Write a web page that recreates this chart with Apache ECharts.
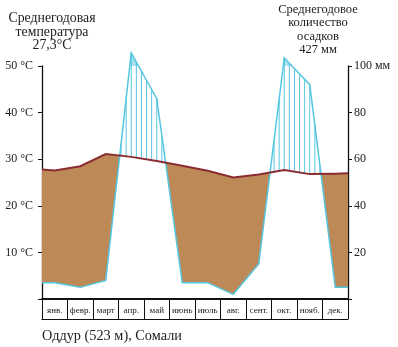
<!DOCTYPE html>
<html><head><meta charset="utf-8">
<script src="https://cdn.jsdelivr.net/npm/echarts@6/dist/echarts.min.js"></script>
<style>html,body{margin:0;padding:0;background:#fff}#c{width:398px;height:347px}</style>
</head><body><div id="c"></div>
<script>
// ---- data ----
const months = ['янв.','февр.','март','апр.','май','июнь','июль','авг.','сент.','окт.','нояб.','дек.'];
const temperature = [27.6, 28.5, 31.1, 30.5, 29.6, 28.6, 27.5, 26.1, 26.7, 27.7, 26.8, 26.9]; // °C
const precipitation = [7, 5, 8, 156, 86, 7, 7, 2, 15, 135, 92, 5]; // mm
const temperatureEdges = [27.8, 27.0];   // values at the left / right border of the diagram
const precipitationEdges = [7, 5];
const tempTickLabels = ['', '10 °C', '20 °C', '30 °C', '40 °C', '50 °C'];
const precTickLabels = ['', '20', '40', '60', '80', '100 мм'];
const leftTitle = 'Среднегодовая\nтемпература\n27,3°C';
const rightTitle = 'Среднегодовое\nколичество\nосадков\n427 мм';
const stationTitle = 'Оддур (523 м), Сомали';

// Walter–Lieth scale: 10 °C = 20 mm up to 100 mm, above that 10 °C = 200 mm
function mmToC(p) { return p <= 100 ? p / 2 : 50 + (p - 100) / 20; }

const xs = [0].concat(months.map((m, i) => i + 0.5), [12]);
const T = [temperatureEdges[0]].concat(temperature, [temperatureEdges[1]]);
const P = [precipitationEdges[0]].concat(precipitation, [precipitationEdges[1]]).map(mmToC);

function interp(arr, x) {
  for (let i = 1; i < xs.length; i++) {
    if (x <= xs[i]) {
      const f = (x - xs[i - 1]) / (xs[i] - xs[i - 1]);
      return arr[i - 1] + f * (arr[i] - arr[i - 1]);
    }
  }
  return arr[arr.length - 1];
}

const BROWN = '#bd8a57', TEMP = '#8a2c32', BLUE = '#55c6df', SOLID = '#a6e2ef';

function renderItem(params, api) {
  const c = (x, y) => api.coord([x, y]);
  const children = [];
  const pts = [];
  for (let i = 0; i < xs.length; i++) {
    if (i > 0) {
      const d0 = T[i - 1] - P[i - 1], d1 = T[i] - P[i];
      if (d0 * d1 < 0) {
        const f = d0 / (d0 - d1);
        pts.push({x: xs[i - 1] + f * (xs[i] - xs[i - 1]), t: T[i - 1] + f * (T[i] - T[i - 1]), p: P[i - 1] + f * (P[i] - P[i - 1])});
      }
    }
    pts.push({x: xs[i], t: T[i], p: P[i]});
  }
  const ptsS = [];
  for (let i = 0; i < xs.length; i++) {
    if (i > 0) {
      const d0 = P[i - 1] - 50, d1 = P[i] - 50;
      if (d0 * d1 < 0) {
        const f = d0 / (d0 - d1);
        ptsS.push({x: xs[i - 1] + f * (xs[i] - xs[i - 1]), p: 50});
      }
    }
    ptsS.push({x: xs[i], p: P[i]});
  }
  let run = null;
  for (let k = 0; k < ptsS.length - 1; k++) {
    const a = ptsS[k], b = ptsS[k + 1];
    const up = (a.p + b.p) / 2 > 50;
    if (up) {
      if (!run) run = [a];
      run.push(b);
    }
    if ((!up || k === ptsS.length - 2) && run) {
      const poly = run.map(q => c(q.x, q.p)).concat([c(run[run.length - 1].x, 50), c(run[0].x, 50)]);
      children.push({type: 'polygon', shape: {points: poly}, style: {fill: SOLID}});
      run = null;
    }
  }
  for (let x = 0.1; x < 12; x += 0.2) {
    const t = interp(T, x), p = interp(P, x);
    if (p > t + 0.3) {
      const a = c(x, t), b = c(x, p);
      children.push({type: 'line', shape: {x1: a[0], y1: a[1], x2: b[0], y2: b[1]}, style: {stroke: BLUE, lineWidth: 1}});
    }
  }
  run = null;
  for (let k = 0; k < pts.length - 1; k++) {
    const a = pts[k], b = pts[k + 1];
    const arid = (a.t + b.t) / 2 > (a.p + b.p) / 2;
    if (arid) {
      if (!run) run = [a];
      run.push(b);
    }
    if ((!arid || k === pts.length - 2) && run) {
      const top = run.map(q => c(q.x, q.t));
      const bot = run.slice().reverse().map(q => c(q.x, q.p));
      children.push({type: 'polygon', shape: {points: top.concat(bot)}, style: {fill: BROWN}});
      run = null;
    }
  }
  children.push({type: 'polyline', shape: {points: xs.map((x, i) => c(x, P[i]))}, style: {stroke: BLUE, lineWidth: 1.5, fill: null}});
  children.push({type: 'polyline', shape: {points: xs.map((x, i) => c(x, T[i]))}, style: {stroke: TEMP, lineWidth: 2, fill: null}});
  return {type: 'group', children: children};
}

const FONT = 'Liberation Serif';
const chart = echarts.init(document.getElementById('c'), null, {renderer: 'canvas'});
chart.setOption({
  animation: false,
  textStyle: {fontFamily: FONT},
  grid: {left: 42, right: 50, top: 66, bottom: 48},
  xAxis: [
    {type: 'value', min: 0, max: 12, show: false},
    {type: 'category', data: months, position: 'bottom', offset: 0, boundaryGap: true,
     axisLine: {show: true, lineStyle: {color: '#111', width: 2}},
     axisTick: {show: true, alignWithLabel: false, interval: 0, length: 20, lineStyle: {color: '#111', width: 1}},
     axisLabel: {interval: 0, margin: 7, fontSize: 9, color: '#222', fontFamily: FONT}},
    {type: 'category', data: months, position: 'bottom', offset: 20,
     axisLine: {show: true, lineStyle: {color: '#111', width: 1.2}},
     axisTick: {show: false}, axisLabel: {show: false}}
  ],
  yAxis: [
    {type: 'value', min: 0, max: 50, interval: 10, position: 'left',
     axisLine: {show: true, lineStyle: {color: '#111', width: 1.3}},
     axisTick: {show: true, length: 4, lineStyle: {color: '#111'}},
     splitLine: {show: false},
     axisLabel: {margin: 9, fontSize: 12, color: '#222', fontFamily: FONT, formatter: (v) => tempTickLabels[Math.round(v / 10)]}},
    {type: 'value', min: 0, max: 100, interval: 20, position: 'right',
     axisLine: {show: true, lineStyle: {color: '#111', width: 1.3}},
     axisTick: {show: true, length: 4, lineStyle: {color: '#111'}},
     splitLine: {show: false},
     axisLabel: {margin: 6, fontSize: 12, color: '#222', fontFamily: FONT, formatter: (v) => precTickLabels[Math.round(v / 20)]}}
  ],
  graphic: [
    {type: 'text', x: 52, y: 12, style: {text: leftTitle, fontFamily: FONT, fontSize: 13.8, lineHeight: 13.5, fill: '#222', align: 'center', verticalAlign: 'top'}},
    {type: 'text', x: 318, y: 3, style: {text: rightTitle, fontFamily: FONT, fontSize: 12.5, lineHeight: 13.3, fill: '#222', align: 'center', verticalAlign: 'top'}},
    {type: 'text', x: 42, y: 336, style: {text: stationTitle, fontFamily: FONT, fontSize: 14.3, fill: '#222', align: 'left', verticalAlign: 'middle'}}
  ],
  series: [{
    type: 'custom', coordinateSystem: 'cartesian2d', xAxisIndex: 0, yAxisIndex: 0,
    clip: false, silent: true, data: [[0, 0]], renderItem: renderItem, z: 1
  }]
});
</script></body></html>
